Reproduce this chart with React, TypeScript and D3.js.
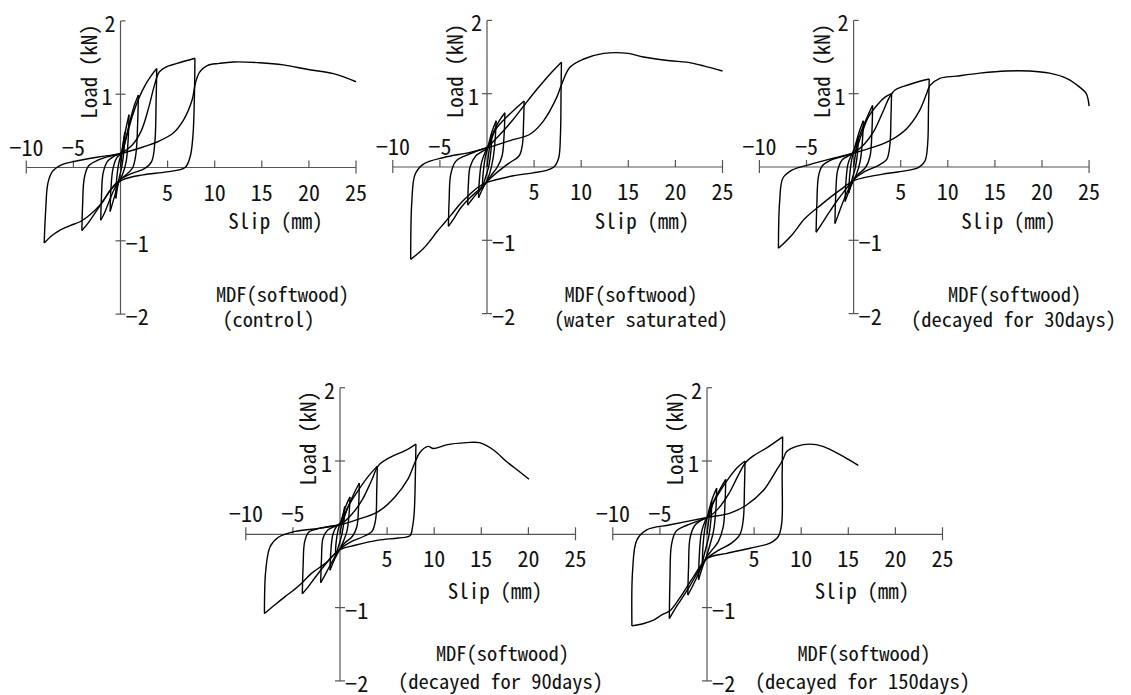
import React from 'react';
import * as d3 from 'd3';

type Pt = [number, number];

const X_TICKS = [-10, -5, 5, 10, 15, 20, 25];
const Y_TICKS = [-2, -1, 1, 2];
const X_DOMAIN: [number, number] = [-10, 25];
const Y_DOMAIN: [number, number] = [-2, 2];
const X_LABEL = 'Slip (mm)';
const Y_LABEL = 'Load  (kN)';
const MATERIAL = 'MDF(softwood)';
const CONDITIONS = ['(control)', '(water saturated)', '(decayed for 30days)', '(decayed for 90days)', '(decayed for 150days)'];

// Each series: list of branches (reversal point to reversal point), [slip mm, load kN]
const CONTROL: Pt[][] = [
  [[0, 0], [0.2, 0.24], [0.45, 0.48]],
  [[0.45, 0.48], [0.38, 0.25], [0.15, 0.02], [-0.15, -0.15], [-0.35, -0.3], [-0.5, -0.42]],
  [[-0.5, -0.42], [-0.42, -0.18], [-0.2, 0.05], [0.1, 0.2], [0.45, 0.45], [0.9, 0.72]],
  [[0.9, 0.72], [0.82, 0.4], [0.6, 0.08], [0.2, -0.1], [-0.2, -0.2], [-0.6, -0.38], [-1.1, -0.6]],
  [[-1.1, -0.6], [-1.02, -0.3], [-0.8, -0.02], [-0.4, 0.13], [0.1, 0.2], [0.6, 0.42], [1.1, 0.68], [1.5, 0.86], [1.9, 0.99]],
  [[1.9, 0.99], [1.82, 0.6], [1.65, 0.2], [1.3, 0.0], [0.6, -0.1], [0, -0.16], [-0.6, -0.28], [-1.2, -0.46], [-1.7, -0.62], [-2.1, -0.72]],
  [[-2.1, -0.72], [-2.02, -0.4], [-1.85, -0.08], [-1.4, 0.08], [-0.6, 0.16], [0.1, 0.2], [0.6, 0.4], [1.3, 0.72], [2.0, 0.96], [2.7, 1.14], [3.3, 1.26], [3.85, 1.35]],
  [[3.85, 1.35], [3.78, 0.9], [3.65, 0.35], [3.3, 0.08], [2.5, -0.02], [1.2, -0.08], [0, -0.16], [-0.8, -0.26], [-1.8, -0.45], [-2.8, -0.64], [-3.5, -0.77], [-4.1, -0.86]],
  [[-4.1, -0.86], [-4.02, -0.5], [-3.85, -0.15], [-3.4, 0.02], [-2.4, 0.1], [-1, 0.16], [0.1, 0.2], [1.2, 0.3], [2.2, 0.5], [3.0, 0.82], [3.6, 1.12], [4.1, 1.3], [4.8, 1.37], [6, 1.42], [7.9, 1.49]],
  [[7.9, 1.49], [7.85, 1.0], [7.7, 0.45], [7.4, 0.15], [6.85, 0.0], [4.9, -0.06], [2.4, -0.1], [0.2, -0.17], [-1, -0.3], [-2.1, -0.5], [-3.2, -0.64], [-4.3, -0.74], [-5.3, -0.79], [-6.5, -0.86], [-7.3, -0.93], [-8.1, -1.03]],
  [[-8.1, -1.03], [-7.95, -0.6], [-7.7, -0.21], [-7.2, -0.05], [-6.2, 0.04], [-5, 0.08], [-2.5, 0.14], [0, 0.19], [2.4, 0.28], [4.1, 0.36], [5.6, 0.47], [6.7, 0.65], [7.6, 0.92], [7.95, 1.15], [8.4, 1.3], [9.2, 1.39], [10.5, 1.42], [12, 1.44], [14.8, 1.43], [17.3, 1.4], [19.8, 1.34], [22.6, 1.28], [25, 1.17]],
];

const WATER: Pt[][] = [
  [[0, 0], [0.25, 0.25], [0.5, 0.45]],
  [[0.5, 0.45], [0.42, 0.22], [0.2, 0.02], [-0.1, -0.12], [-0.3, -0.2], [-0.5, -0.3]],
  [[-0.5, -0.3], [-0.42, -0.1], [-0.2, 0.12], [0.15, 0.3], [0.5, 0.47], [0.97, 0.63]],
  [[0.97, 0.63], [0.88, 0.4], [0.65, 0.12], [0.3, -0.08], [0, -0.18], [-0.4, -0.28], [-0.9, -0.42]],
  [[-0.9, -0.42], [-0.82, -0.2], [-0.6, 0.05], [-0.2, 0.2], [0.2, 0.3], [0.7, 0.48], [1.3, 0.63], [1.9, 0.74]],
  [[1.9, 0.74], [1.82, 0.45], [1.6, 0.15], [1.1, 0.0], [0.4, -0.12], [0, -0.2], [-0.5, -0.28], [-1.2, -0.38], [-1.7, -0.46], [-2.05, -0.52]],
  [[-2.05, -0.52], [-1.98, -0.25], [-1.8, 0.0], [-1.2, 0.15], [-0.4, 0.22], [0.1, 0.26], [0.86, 0.5], [1.92, 0.66], [2.98, 0.79], [3.94, 0.9]],
  [[3.94, 0.9], [3.88, 0.6], [3.75, 0.3], [3.4, 0.15], [2.3, 0.05], [1.0, -0.08], [0, -0.2], [-0.8, -0.3], [-1.8, -0.42], [-2.8, -0.56], [-3.5, -0.7], [-4.1, -0.81]],
  [[-4.1, -0.81], [-4.02, -0.45], [-3.85, -0.1], [-3.3, 0.08], [-2.2, 0.16], [-1, 0.22], [0, 0.27], [1.2, 0.42], [2.6, 0.62], [4.0, 0.85], [5.3, 1.06], [6.7, 1.27], [7.9, 1.43]],
  [[7.9, 1.43], [7.86, 1.0], [7.8, 0.45], [7.6, 0.12], [7.1, 0.0], [6.2, -0.05], [4.9, -0.08], [2.8, -0.12], [0, -0.21], [-1.0, -0.28], [-1.8, -0.37], [-2.7, -0.48], [-3.6, -0.62], [-4.5, -0.76], [-5.3, -0.88], [-6.0, -1.0], [-6.8, -1.12], [-8.1, -1.26]],
  [[-8.1, -1.26], [-7.98, -0.47], [-7.63, -0.1], [-6.75, 0.04], [-4.6, 0.13], [-1.8, 0.2], [0, 0.26], [2.45, 0.36], [4.6, 0.45], [6.0, 0.63], [7.4, 0.95], [7.93, 1.13], [8.8, 1.36], [10.2, 1.47], [12.4, 1.55], [15.0, 1.55], [16.6, 1.5], [19.4, 1.45], [21.2, 1.43], [23, 1.38], [25, 1.31]],
];

const DECAY30: Pt[][] = [
  [[0, 0], [0.25, 0.22], [0.5, 0.42]],
  [[0.5, 0.42], [0.42, 0.2], [0.2, 0.0], [-0.1, -0.14], [-0.3, -0.24], [-0.5, -0.35]],
  [[-0.5, -0.35], [-0.42, -0.12], [-0.2, 0.1], [0.15, 0.28], [0.6, 0.48], [1.03, 0.63]],
  [[1.03, 0.63], [0.95, 0.38], [0.7, 0.08], [0.3, -0.1], [0, -0.18], [-0.4, -0.3], [-0.9, -0.47]],
  [[-0.9, -0.47], [-0.82, -0.22], [-0.6, 0.04], [-0.2, 0.17], [0.2, 0.28], [0.85, 0.5], [1.5, 0.7], [2.02, 0.84]],
  [[2.02, 0.84], [1.95, 0.5], [1.75, 0.15], [1.3, 0.0], [0.5, -0.1], [0, -0.18], [-0.6, -0.32], [-1.2, -0.5], [-1.65, -0.66], [-1.98, -0.77]],
  [[-1.98, -0.77], [-1.9, -0.4], [-1.7, -0.05], [-1.2, 0.1], [-0.4, 0.16], [0.1, 0.2], [0.85, 0.45], [1.56, 0.68], [2.6, 0.86], [3.3, 0.95], [4.03, 1.0]],
  [[4.03, 1.0], [3.97, 0.7], [3.85, 0.3], [3.5, 0.1], [2.6, 0.02], [1.2, -0.06], [0, -0.17], [-0.8, -0.3], [-1.7, -0.45], [-2.6, -0.62], [-3.4, -0.78], [-3.98, -0.89]],
  [[-3.98, -0.89], [-3.9, -0.5], [-3.72, -0.12], [-3.3, 0.02], [-2.3, 0.1], [-1, 0.15], [0.1, 0.2], [1.2, 0.32], [2.2, 0.5], [3.1, 0.75], [3.8, 0.95], [4.4, 1.05], [5.3, 1.1], [6.5, 1.15], [8.03, 1.2]],
  [[8.03, 1.2], [7.95, 0.8], [7.86, 0.31], [7.57, 0.08], [6.87, -0.01], [5.1, -0.06], [2.97, -0.1], [0.15, -0.18], [-1.6, -0.33], [-3.4, -0.51], [-5.15, -0.7], [-6.57, -0.93], [-7.98, -1.11]],
  [[-7.98, -1.11], [-7.85, -0.47], [-7.5, -0.15], [-6.5, -0.04], [-4.5, 0.04], [-2.15, 0.12], [0, 0.19], [2.1, 0.27], [3.85, 0.36], [5.6, 0.52], [7.0, 0.77], [7.75, 1.0], [8.1, 1.11], [9.16, 1.21], [10.9, 1.24], [13.4, 1.28], [16.2, 1.31], [18.7, 1.31], [20.8, 1.28], [22.6, 1.21], [24.0, 1.09], [24.7, 1.0], [25.0, 0.83]],
];

const DECAY90: Pt[][] = [
  [[0, 0], [0.25, 0.2], [0.5, 0.38]],
  [[0.5, 0.38], [0.42, 0.18], [0.2, 0.0], [-0.1, -0.14], [-0.3, -0.22], [-0.5, -0.32]],
  [[-0.5, -0.32], [-0.42, -0.12], [-0.2, 0.06], [0.15, 0.2], [0.6, 0.38], [1.06, 0.51]],
  [[1.06, 0.51], [0.98, 0.3], [0.75, 0.05], [0.35, -0.1], [0, -0.2], [-0.5, -0.32], [-1.06, -0.49]],
  [[-1.06, -0.49], [-0.98, -0.25], [-0.75, 0.0], [-0.3, 0.12], [0.1, 0.16], [0.8, 0.36], [1.5, 0.56], [2.05, 0.7]],
  [[2.05, 0.7], [1.98, 0.4], [1.78, 0.1], [1.3, -0.03], [0.5, -0.12], [0, -0.2], [-0.6, -0.32], [-1.2, -0.46], [-1.7, -0.58], [-2.05, -0.66]],
  [[-2.05, -0.66], [-1.97, -0.35], [-1.8, -0.05], [-1.3, 0.06], [-0.5, 0.11], [0.1, 0.14], [0.88, 0.38], [1.94, 0.6], [3.0, 0.79], [3.96, 0.93]],
  [[3.96, 0.93], [3.9, 0.6], [3.78, 0.2], [3.4, 0.04], [2.5, -0.03], [1.2, -0.1], [0, -0.2], [-0.8, -0.3], [-1.8, -0.45], [-2.7, -0.6], [-3.4, -0.72], [-4.0, -0.81]],
  [[-4.0, -0.81], [-3.92, -0.45], [-3.75, -0.1], [-3.3, 0.03], [-2.2, 0.08], [-1, 0.11], [0.1, 0.14], [1.3, 0.28], [2.4, 0.48], [3.3, 0.72], [4.1, 0.94], [5.48, 1.06], [6.9, 1.14], [8.06, 1.23]],
  [[8.06, 1.23], [8.0, 0.8], [7.88, 0.3], [7.7, 0.1], [7.42, -0.02], [6.18, -0.05], [4.06, -0.08], [1.59, -0.15], [0, -0.21], [-1.59, -0.4], [-3.0, -0.53], [-4.42, -0.71], [-5.83, -0.85], [-6.9, -0.96], [-8.02, -1.08]],
  [[-8.02, -1.08], [-7.88, -0.49], [-7.42, -0.17], [-6.54, -0.04], [-4.77, 0.04], [-2.3, 0.08], [0, 0.13], [2.3, 0.22], [4.06, 0.31], [5.83, 0.51], [7.24, 0.76], [7.95, 0.98], [8.5, 1.12], [9.36, 1.2], [9.9, 1.17], [11.3, 1.22], [13.4, 1.25], [14.8, 1.25], [16.3, 1.15], [17.7, 0.99], [19.1, 0.85], [20.07, 0.75]],
];

const DECAY150: Pt[][] = [
  [[0, 0], [0.25, 0.25], [0.5, 0.45]],
  [[0.5, 0.45], [0.42, 0.2], [0.2, -0.02], [-0.1, -0.18], [-0.3, -0.28], [-0.5, -0.4]],
  [[-0.5, -0.4], [-0.42, -0.15], [-0.2, 0.1], [0.15, 0.3], [0.6, 0.5], [1.03, 0.63]],
  [[1.03, 0.63], [0.95, 0.35], [0.7, 0.05], [0.3, -0.15], [0, -0.28], [-0.4, -0.42], [-0.9, -0.62]],
  [[-0.9, -0.62], [-0.82, -0.3], [-0.6, 0.02], [-0.2, 0.18], [0.2, 0.28], [0.7, 0.45], [1.4, 0.62], [1.99, 0.75]],
  [[1.99, 0.75], [1.92, 0.45], [1.72, 0.1], [1.2, -0.1], [0.5, -0.22], [0, -0.3], [-0.6, -0.45], [-1.2, -0.62], [-1.7, -0.75], [-2.04, -0.83]],
  [[-2.04, -0.83], [-1.96, -0.45], [-1.8, -0.05], [-1.3, 0.12], [-0.5, 0.2], [0.1, 0.24], [0.68, 0.43], [1.39, 0.59], [2.45, 0.79], [3.3, 0.92], [4.04, 1.0]],
  [[4.04, 1.0], [3.98, 0.65], [3.85, 0.2], [3.5, 0.0], [2.6, -0.12], [1.2, -0.22], [0, -0.33], [-0.8, -0.48], [-1.8, -0.7], [-2.8, -0.9], [-3.5, -1.04], [-4.0, -1.15]],
  [[-4.0, -1.15], [-3.93, -0.6], [-3.78, -0.15], [-3.3, 0.04], [-2.2, 0.12], [-1, 0.18], [0.1, 0.23], [1.2, 0.35], [2.3, 0.55], [3.3, 0.8], [4.1, 0.98], [4.92, 1.07], [6.34, 1.18], [8.03, 1.33]],
  [[8.03, 1.33], [7.98, 0.8], [7.93, 0.15], [7.57, -0.03], [6.69, -0.12], [4.57, -0.19], [2.1, -0.26], [0, -0.33], [-1.44, -0.58], [-2.85, -0.86], [-3.9, -1.04], [-4.8, -1.1], [-5.67, -1.17], [-6.8, -1.22], [-7.97, -1.25]],
  [[-7.97, -1.25], [-7.9, -0.5], [-7.45, -0.08], [-6.4, 0.06], [-3.9, 0.13], [0, 0.23], [2.45, 0.29], [4.2, 0.4], [6.0, 0.6], [7.4, 0.88], [8.03, 1.01], [8.46, 1.13], [9.5, 1.2], [10.9, 1.23], [12.3, 1.2], [14.5, 1.06], [16.06, 0.94]],
];

const SERIES = [CONTROL, WATER, DECAY30, DECAY90, DECAY150];

// layout: axis origin in px, annotation offsets
const LAYOUT = [
  { cx: 120.5, cy: 167.5, slipDy: 52.5, l1: [162, 125.5], l2: [148, 150.5] },
  { cx: 487, cy: 167, slipDy: 52.5, l1: [144, 126], l2: [154, 151] },
  { cx: 853.6, cy: 167, slipDy: 52.5, l1: [161, 126], l2: [160, 151] },
  { cx: 340, cy: 534.3, slipDy: 55.5, l1: [162.5, 117.4], l2: [160.5, 146] },
  { cx: 707, cy: 534.3, slipDy: 55.5, l1: [157, 117.4], l2: [155.5, 146] },
];

const KX = 9.42;
const KY = 73.3;
const AXIS_COLOR = '#555';
const FONT = "'Noto Sans Mono CJK JP', 'Noto Sans CJK JP', 'Liberation Mono', monospace";
const fmt = d3.format('d');

function Panel({ idx }: { idx: number }) {
  const L = LAYOUT[idx];
  const x = d3.scaleLinear().domain(X_DOMAIN).range([L.cx + X_DOMAIN[0] * KX, L.cx + X_DOMAIN[1] * KX]);
  const y = d3.scaleLinear().domain(Y_DOMAIN).range([L.cy - Y_DOMAIN[0] * KY, L.cy - Y_DOMAIN[1] * KY]);
  const line = d3.line<Pt>().x(d => x(d[0])).y(d => y(d[1])).curve(d3.curveCatmullRom.alpha(0.5));
  const x0 = x(0);
  const y0 = y(0);
  return (
    <g>
      <line x1={x(X_DOMAIN[0])} x2={x(X_DOMAIN[1])} y1={y0} y2={y0} stroke={AXIS_COLOR} strokeWidth={1.2} />
      <line x1={x0} x2={x0} y1={y(Y_DOMAIN[0])} y2={y(Y_DOMAIN[1])} stroke={AXIS_COLOR} strokeWidth={1.2} />
      {X_TICKS.map(t => {
        const end = t === X_DOMAIN[0] || t === X_DOMAIN[1];
        return (
          <g key={'xt' + t}>
            <line x1={x(t)} x2={x(t)} y1={y0 - 7} y2={end ? y0 + 6 : y0} stroke={AXIS_COLOR} strokeWidth={1.2} />
            <text x={x(t)} y={t < 0 ? y0 - 22 : y0 + 23} textAnchor="middle" dominantBaseline="central"
              fontFamily={FONT} fontSize={22} fill="#111">{fmt(t)}</text>
          </g>
        );
      })}
      {Y_TICKS.map(t => {
        const left = t === 2 ? 0 : 5;
        const right = 5;
        return (
          <g key={'yt' + t}>
            <line x1={x0 - left} x2={x0 + right} y1={y(t)} y2={y(t)} stroke={AXIS_COLOR} strokeWidth={1.2} />
            <text x={t > 0 ? x0 - (t === 2 ? 5 : 8) : x0 + 5} y={y(t) + 1} textAnchor={t > 0 ? 'end' : 'start'}
              dominantBaseline="central" fontFamily={FONT} fontSize={22} fill="#111">{fmt(t)}</text>
          </g>
        );
      })}
      <text transform={`translate(${L.cx - 33},${L.cy - 96}) rotate(-90)`} textAnchor="middle" dominantBaseline="central"
        fontFamily={FONT} fontSize={21} fill="#111">{Y_LABEL}</text>
      <text x={L.cx + 155} y={L.cy + L.slipDy} textAnchor="middle" dominantBaseline="central"
        fontFamily={FONT} fontSize={21} fill="#111">{X_LABEL}</text>
      <text x={L.cx + L.l1[0]} y={L.cy + L.l1[1]} textAnchor="middle" dominantBaseline="central"
        fontFamily={FONT} fontSize={20.5} fill="#111">{MATERIAL}</text>
      <text x={L.cx + L.l2[0]} y={L.cy + L.l2[1]} textAnchor="middle" dominantBaseline="central"
        fontFamily={FONT} fontSize={20.5} fill="#111">{CONDITIONS[idx]}</text>
      {SERIES[idx].map((b, i) => (
        <path key={i} d={line(b) || ''} fill="none" stroke="#000" strokeWidth={1.4} strokeLinejoin="round" />
      ))}
    </g>
  );
}

export default function App() {
  return (
    <svg width={1131} height={695} viewBox="0 0 1131 695"
      style={{ position: 'absolute', left: 0, top: 0, background: '#fff' }}>
      <rect width={1131} height={695} fill="#fff" />
      {LAYOUT.map((_, i) => <Panel key={i} idx={i} />)}
    </svg>
  );
}
